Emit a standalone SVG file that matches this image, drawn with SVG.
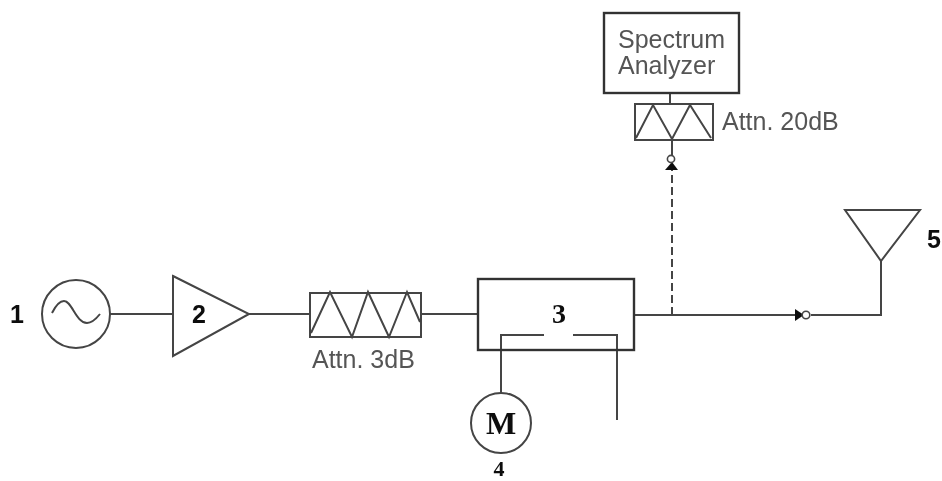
<svg xmlns="http://www.w3.org/2000/svg" width="942" height="481" viewBox="0 0 942 481">
<defs><filter id="soft" x="-10%" y="-10%" width="120%" height="120%"><feGaussianBlur stdDeviation="0.55"/></filter></defs>
<style>
g{filter:url(#soft)}
.s{fill:none;stroke:#444;stroke-width:2}
.b{fill:none;stroke:#333;stroke-width:2.4}
.t{font-family:"Liberation Sans",Arial,sans-serif;font-size:25px;fill:#555}
.n{font-family:"Liberation Sans",Arial,sans-serif;font-size:25px;font-weight:bold;fill:#111}
.m{font-family:"Liberation Serif","Times New Roman",serif;font-weight:bold;fill:#111}
</style>
<rect width="942" height="481" fill="#fff"/>
<g id="connectors">
<path class="s" d="M110 314H173"/>
<path class="s" d="M249 314H310"/>
<path class="s" d="M421 314H478"/>
<path class="s" d="M634 315H796"/>
<path class="s" d="M811 315H881V261"/>
<path class="s" stroke-dasharray="8 4" d="M672 315V170"/>
<path class="s" d="M670 94V104"/>
<path class="s" d="M672 140V156"/>
<path class="s" d="M501 393V335H544"/>
<path class="s" d="M573 335H617V420"/>
<path d="M795 309L804 315L795 321Z" fill="#111"/>
<circle cx="806" cy="315" r="3.8" fill="#fff" stroke="#444" stroke-width="1.6"/>
<path d="M665 170L672 162L678 170Z" fill="#111"/>
<circle cx="671" cy="159" r="3.6" fill="#fff" stroke="#444" stroke-width="1.6"/>
</g>
<g id="node-1">
<circle class="s" cx="76" cy="314" r="34"/>
<path class="s" d="M52 313C56 305 60 301 64 301C72 301 76 323 87 323C92 323 96 319 100 314"/>
<text class="n" x="17" y="323" text-anchor="middle">1</text>
</g>
<g id="node-2">
<path class="s" d="M173 276L249 314L173 356Z"/>
<text class="n" x="199" y="323" text-anchor="middle">2</text>
</g>
<g id="attn-3db">
<rect class="s" x="310" y="293" width="111" height="44"/>
<path class="s" d="M311 333L330 292L352 337L368 292L389 337L407 292L420 322"/>
<text class="t" x="312" y="368">Attn. 3dB</text>
</g>
<g id="node-3">
<rect class="b" x="478" y="279" width="156" height="71"/>
<text class="m" x="559" y="323" font-size="28" text-anchor="middle">3</text>
</g>
<g id="node-4">
<circle class="s" cx="501" cy="423" r="30"/>
<text class="m" x="501" y="434" font-size="32" text-anchor="middle">M</text>
<text class="m" x="499" y="476" font-size="22" text-anchor="middle">4</text>
</g>
<g id="node-5">
<path class="s" d="M845 210H920L881 261Z"/>
<text class="n" x="927" y="248">5</text>
</g>
<g id="spectrum-analyzer">
<rect class="b" x="604" y="13" width="135" height="80"/>
<text class="t" x="618" y="48">Spectrum</text>
<text class="t" x="618" y="74">Analyzer</text>
</g>
<g id="attn-20db">
<rect class="s" x="635" y="104" width="78" height="36"/>
<path class="s" d="M636 138L653 105L672 139L690 105L711 138"/>
<text class="t" x="722" y="130">Attn. 20dB</text>
</g>
</svg>
